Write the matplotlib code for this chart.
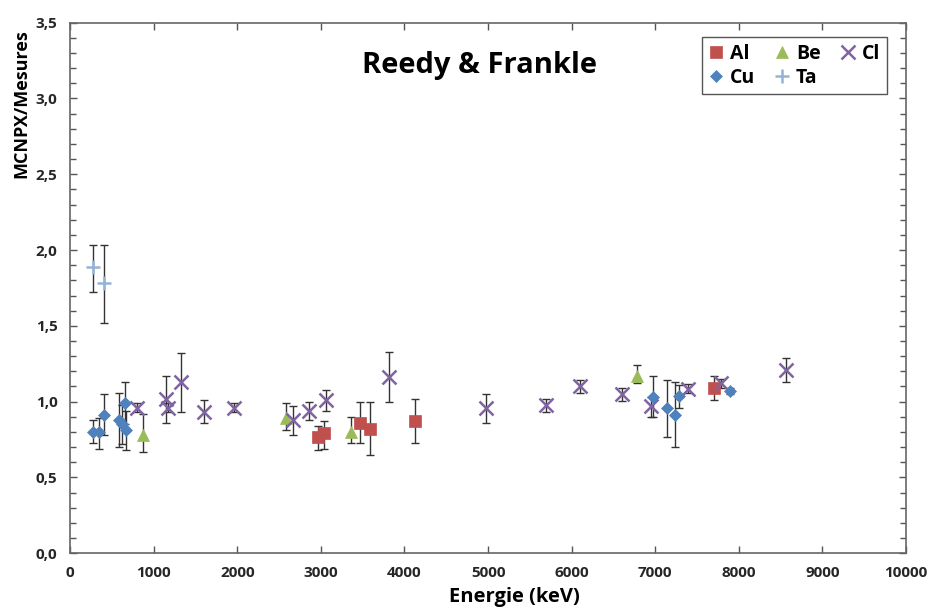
"""Reedy & Frankle - MCNPX/Mesures ratio versus energy"""

import matplotlib.pyplot as plt
from matplotlib.ticker import MultipleLocator, FuncFormatter

plt.rcParams['font.family'] = ['Open Sans', 'DejaVu Sans']

# Values (energy keV, ratio, lower and upper error bar ends)
al_x = [2960, 3036, 3464, 3587, 4127, 7702]
al_y = [0.77, 0.79, 0.86, 0.82, 0.87, 1.09]
al_lo = [0.68, 0.69, 0.73, 0.65, 0.73, 1.01]
al_hi = [0.84, 0.87, 1.00, 1.00, 1.02, 1.17]

be_x = [869, 2583, 3365, 6786]
be_y = [0.78, 0.89, 0.80, 1.17]
be_lo = [0.67, 0.81, 0.73, 1.12]
be_hi = [0.92, 0.99, 0.90, 1.24]

cl_x = [798, 1143, 1170, 1330, 1607, 1956, 2671, 2861, 3060, 3813,
        4972, 5698, 6095, 6607, 6944, 7393, 7790, 8560]
cl_y = [0.96, 1.02, 0.96, 1.13, 0.93, 0.96, 0.88, 0.94, 1.01, 1.16,
        0.955, 0.98, 1.10, 1.05, 0.97, 1.085, 1.12, 1.21]
cl_lo = [0.93, 0.86, 0.93, 0.93, 0.86, 0.93, 0.78, 0.88, 0.94, 1.00,
         0.86, 0.93, 1.06, 1.005, 0.90, 1.055, 1.09, 1.13]
cl_hi = [0.99, 1.17, 0.99, 1.32, 1.01, 0.99, 0.97, 1.00, 1.08, 1.33,
         1.05, 1.02, 1.14, 1.09, 1.03, 1.115, 1.15, 1.29]

cu_x = [277, 350, 401, 587, 619, 659, 667, 6976, 7146, 7234, 7282, 7897]
cu_y = [0.80, 0.80, 0.91, 0.88, 0.85, 0.99, 0.81, 1.03, 0.96, 0.91, 1.04, 1.07]
cu_lo = [0.73, 0.69, 0.78, 0.70, 0.72, 0.85, 0.68, 0.90, 0.77, 0.70, 0.955, 1.05]
cu_hi = [0.88, 0.89, 1.05, 1.06, 0.98, 1.13, 0.94, 1.17, 1.145, 1.13, 1.11, 1.09]

ta_x = [274, 405]
ta_y = [1.89, 1.78]
ta_lo = [1.72, 1.52]
ta_hi = [2.03, 2.03]

fig = plt.figure(figsize=(9.3, 6.1), dpi=100)
ax = fig.add_axes([0.0753, 0.093, 0.899, 0.870])

series = [
    ('Al', al_x, al_y, al_lo, al_hi, 's', '#C0504D', 9),
    ('Be', be_x, be_y, be_lo, be_hi, '^', '#9BBB59', 8.5),
    ('Cl', cl_x, cl_y, cl_lo, cl_hi, 'x', '#8064A2', 9.5),
    ('Cu', cu_x, cu_y, cu_lo, cu_hi, 'D', '#4F81BD', 6.5),
    ('Ta', ta_x, ta_y, ta_lo, ta_hi, '+', '#95B3D7', 10),
]

handles = {}
for name, xs, ys, lo, hi, mk, col, ms in series:
    yerr = [[y - l for y, l in zip(ys, lo)], [h - y for y, h in zip(ys, hi)]]
    ax.errorbar(xs, ys, yerr=yerr, fmt='none', ecolor='#333333',
                elinewidth=1.0, capsize=3, capthick=1.0, zorder=2)
    lw = 1.8 if mk in ('x', '+') else 0.5
    h, = ax.plot(xs, ys, linestyle='none', marker=mk, color=col,
                 markersize=ms, markeredgewidth=lw,
                 markeredgecolor=col, label=name, zorder=3)
    handles[name] = h

# Axes limits and ticks
ax.set_xlim(0, 10000)
ax.set_ylim(0, 3.5)
ax.xaxis.set_major_locator(MultipleLocator(1000))
ax.yaxis.set_major_locator(MultipleLocator(0.5))
ax.yaxis.set_minor_locator(MultipleLocator(0.1))
ax.yaxis.set_major_formatter(FuncFormatter(lambda v, p: f'{v:.1f}'.replace('.', ',')))
ax.tick_params(which='both', direction='in', top=True, right=True,
               color='#555555', width=1.0)
ax.tick_params(which='major', length=5, labelsize=11, labelcolor='#262626', pad=9)
ax.tick_params(which='minor', length=4)
for lab in ax.get_xticklabels() + ax.get_yticklabels():
    lab.set_fontweight('bold')

for sp in ax.spines.values():
    sp.set_color('#666666')
    sp.set_linewidth(1.2)

# Axis titles (y title sits towards the top, as in the original)
ax.set_xlabel('Energie (keV)', fontsize=14.5, fontweight='bold')
ax.xaxis.set_label_coords(0.531, -0.064)
ax.set_ylabel('MCNPX/Mesures', fontsize=13, fontweight='bold')
ax.yaxis.set_label_coords(-0.047, 0.847)

ax.text(0.49, 0.92, 'Reedy & Frankle', transform=ax.transAxes,
        ha='center', va='center', fontsize=21, fontweight='bold')

order = ['Al', 'Cu', 'Be', 'Ta', 'Cl']
leg = ax.legend([handles[n] for n in order], order, ncol=3,
                loc='upper right', bbox_to_anchor=(0.977, 0.973),
                borderaxespad=0, fancybox=False, edgecolor='#555555',
                framealpha=1, prop={'weight': 'bold', 'size': 14},
                handlelength=0.8, handletextpad=0.3, columnspacing=1.0,
                borderpad=0.35, labelspacing=0.2)
leg.get_frame().set_linewidth(1.0)

fig.savefig('out.png', dpi=100)
